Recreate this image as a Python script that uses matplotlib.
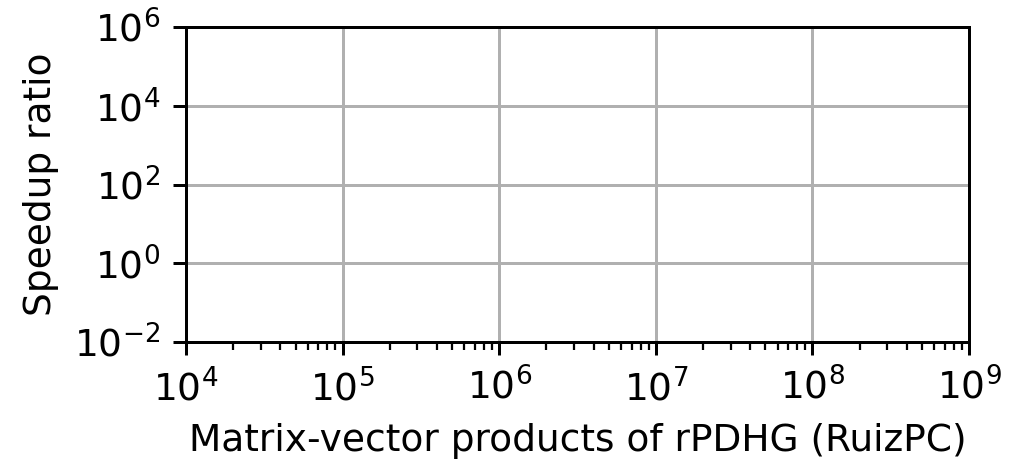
import numpy as np
import matplotlib
matplotlib.use("Agg")
import matplotlib.pyplot as plt
from matplotlib.ticker import LogLocator, NullLocator

# no instances recorded for this setting, the axes stay empty
matvec_counts = []
speedup_ratios = []

x_lim = (1e4, 1e9)
y_lim = (1e-2, 1e6)
y_ticks = [1e-2, 1e0, 1e2, 1e4, 1e6]

plt.rcParams['font.family'] = 'DejaVu Sans'
plt.rcParams['font.size'] = 10

fig = plt.figure(figsize=(1015 / 270, 465 / 270), dpi=270)
ax = fig.add_axes([0.1833, 0.2645, 0.9547 - 0.1833, 0.9419 - 0.2645])

ax.scatter(matvec_counts, speedup_ratios, s=6)
ax.set_xscale('log')
ax.set_yscale('log')
ax.set_xlim(*x_lim)
ax.set_ylim(*y_lim)
ax.set_yticks(y_ticks)
ax.yaxis.set_minor_locator(NullLocator())
ax.xaxis.set_major_locator(LogLocator(base=10, numticks=10))
ax.xaxis.set_minor_locator(LogLocator(base=10, subs=np.arange(2, 10), numticks=20))

ax.grid(True, which='major', color='#b0b0b0', linewidth=0.8)
ax.set_axisbelow(True)

ax.set_xlabel('Matrix-vector products of rPDHG (RuizPC)')
ax.set_ylabel('Speedup ratio')

fig.savefig('out.png', dpi=270)
